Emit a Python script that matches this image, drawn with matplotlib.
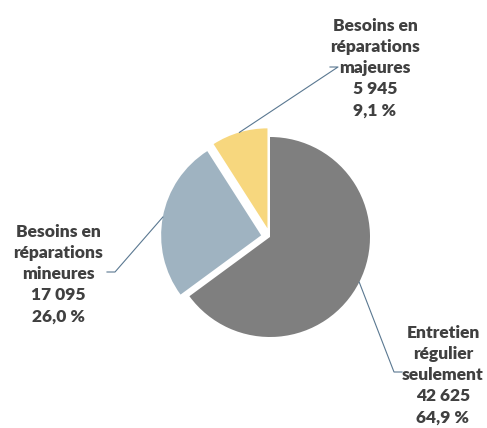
import numpy as np
import matplotlib.pyplot as plt

# données
categories = ['Entretien\nrégulier\nseulement', 'Besoins en\nréparations\nmineures',
              'Besoins en\nréparations\nmajeures']
values = [42625, 17095, 5945]
percents = ['64,9 %', '26,0 %', '9,1 %']
colors = ['#7f7f7f', '#9fb3c1', '#f7d77e']

W, H = 487, 428
fig = plt.figure(figsize=(W / 100, H / 100), dpi=100)
ax = fig.add_axes([0, 0, 1, 1])

cx, cy, r = 270, H - 237, 100
explode = [0, 0.09 * r, 0.09 * r]   # explode est en unités de données
wedges, _ = ax.pie(values, colors=colors, startangle=90, counterclock=False,
                   center=(cx, cy), radius=r, explode=explode,
                   wedgeprops=dict(linewidth=0))
ax.set_xlim(0, W)
ax.set_ylim(0, H)
ax.set_aspect('equal')
ax.axis('off')

# positions des étiquettes (pixels) : centre du texte, coude de la ligne
label_pos = [(443, 375, 402, 372, 'left'),
             (58, 274, 107, 272, 'right'),
             (375, 68, 330, 67, 'right')]
line_col = '#5a7891'
for w, cat, v, p, (lx, ly, ex, ey, side) in zip(wedges, categories, values, percents, label_pos):
    ang = np.deg2rad((w.theta1 + w.theta2) / 2)
    x0 = w.center[0] + w.r * np.cos(ang)
    y0 = w.center[1] + w.r * np.sin(ang)
    kx = ex + (-8 if side == 'left' else 8)
    ax.plot([x0, kx, ex], [y0, H - ey, H - ey], color=line_col, lw=0.8)
    num = f'{v:,}'.replace(',', ' ')
    ax.text(lx, H - ly, f'{cat}\n{num}\n{p}', ha='center', va='center',
            fontsize=12.5, fontweight='heavy', color='#404040', family='Lato',
            linespacing=1.4)

fig.savefig('out.png', dpi=100)
